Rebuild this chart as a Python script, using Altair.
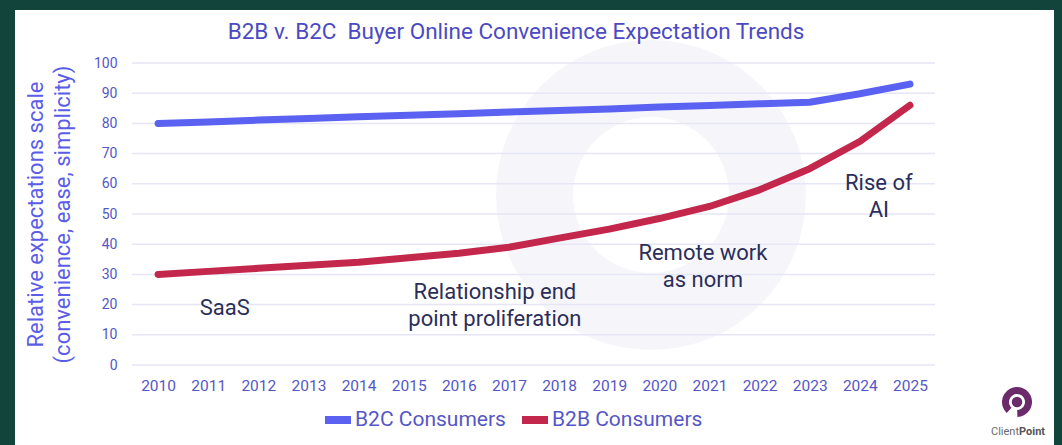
import altair as alt
import pandas as pd

YEARS = list(range(2010, 2026))
B2C = [80, 80.5, 81.1, 81.6, 82.2, 82.7, 83.2, 83.8, 84.3, 84.8, 85.4, 85.9, 86.5, 87.0, 89.8, 93.0]
B2B = [30, 31, 32, 33, 34, 35.5, 37, 39, 42, 45, 48.5, 52.5, 58, 65, 74, 86]
SERIES = ["B2C Consumers", "B2B Consumers"]
COLORS = ["#5b61f0", "#c4274c"]
Y_TICKS = list(range(0, 101, 10))
NOTES = ["SaaS", "Relationship end\npoint proliferation", "Remote work\nas norm", "Rise of\nAI"]
NOTE_X = [2011.33, 2016.72, 2020.87, 2024.38]
NOTE_Y = [18.9, 24.2, 37.1, 60.3]

TITLE = "B2B v. B2C\u00a0 Buyer Online Convenience Expectation Trends"
Y_TITLE = ["Relative expectations scale", "(convenience, ease, simplicity)"]

W, H = 803, 302
FONT = "Roboto"
LABEL_C = "#5557c6"

df = pd.DataFrame({
    "year": YEARS * 2,
    "value": B2C + B2B,
    "series": [SERIES[0]] * len(YEARS) + [SERIES[1]] * len(YEARS),
})
grid_df = pd.DataFrame({"tick": Y_TICKS})
notes_df = pd.DataFrame({"nx": NOTE_X, "ny": NOTE_Y, "note": NOTES})
one = pd.DataFrame({"k": [0]})

xscale = alt.Scale(domain=[2009.48, 2025.5], nice=False, zero=False)
yscale = alt.Scale(domain=[0, 100], nice=False)

AX_X = alt.Axis(values=YEARS, format="d", grid=False, ticks=False, tickSize=0, title=None,
                domain=False, labelFontSize=15.5, labelColor=LABEL_C, labelFont=FONT,
                labelPadding=13, labelOverlap=False, labelFlush=False)
AX_Y = alt.Axis(values=Y_TICKS, grid=False, ticks=False, tickSize=0, domain=False, title=Y_TITLE,
                labelFontSize=14, labelColor=LABEL_C, labelFont=FONT, labelPadding=15,
                titleFont=FONT, titleFontSize=22, titleFontWeight="normal",
                titleColor="#5b5de8", titleLineHeight=27, titleX=-97, titleY=151,
                titleBaseline="middle", titleAlign="center", titleAngle=270)

# decorative background ring
ring = alt.Chart(one).mark_arc(innerRadius=78, outerRadius=155, color="#f6f6fa").encode(
    x=alt.value(651 - 132), y=alt.value(195 - 63),
    theta=alt.value(0), theta2=alt.value(6.2832),
)

grid = alt.Chart(grid_df).mark_rule(color="#e6e6f6", strokeWidth=1.5).encode(
    y=alt.Y("tick:Q", scale=yscale, axis=AX_Y)
)

lines = alt.Chart(df).mark_line(strokeWidth=7, strokeCap="round", strokeJoin="round").encode(
    x=alt.X("year:Q", scale=xscale, axis=AX_X),
    y=alt.Y("value:Q", scale=yscale, axis=AX_Y),
    color=alt.Color("series:N", scale=alt.Scale(domain=SERIES, range=COLORS),
                    legend=alt.Legend(orient="none", legendX=189, legendY=340,
                                      direction="horizontal", title=None, labelFont=FONT,
                                      labelFontSize=21, labelColor=LABEL_C, symbolType="stroke",
                                      symbolStrokeWidth=8, symbolSize=676, columnPadding=0,
                                      labelOffset=0)),
    detail="series:N",
)

notes = alt.Chart(notes_df).mark_text(font=FONT, fontSize=22, color="#2b2e5a", lineBreak="\n",
                                      lineHeight=27, baseline="middle", align="center").encode(
    x=alt.X("nx:Q", scale=xscale, axis=AX_X),
    y=alt.Y("ny:Q", scale=yscale, axis=AX_Y),
    text="note:N",
)

title = alt.Chart(one).mark_text(text=TITLE, font=FONT, fontSize=22.5, color="#4b49c3",
                                 align="center", baseline="middle").encode(
    x=alt.value(516 - 132), y=alt.value(32 - 63))

# dark frame around the card
frame_c = "#13443c"
left_strip = alt.Chart(one).mark_rect(color=frame_c).encode(
    x=alt.value(-132), x2=alt.value(-117), y=alt.value(-63), y2=alt.value(382))
top_strip = alt.Chart(one).mark_rect(color=frame_c).encode(
    x=alt.value(-132), x2=alt.value(930), y=alt.value(-63), y2=alt.value(-53))
right_strip = alt.Chart(one).mark_rect(color=frame_c).encode(
    x=alt.value(922), x2=alt.value(930), y=alt.value(-63), y2=alt.value(382))

# logo
logo_ring = alt.Chart(one).mark_arc(innerRadius=8, outerRadius=15, color="#6a2a6b").encode(
    x=alt.value(1017 - 132), y=alt.value(402 - 63),
    theta=alt.value(3.9), theta2=alt.value(9.4))
logo_dot = alt.Chart(one).mark_point(filled=True, size=110, color="#6a2a6b", opacity=1).encode(
    x=alt.value(1017 - 132), y=alt.value(402 - 63))
logo_t1 = alt.Chart(one).mark_text(text="Client", font=FONT, fontSize=11, color="#6b6b6b",
                                   align="right", baseline="middle").encode(
    x=alt.value(1019 - 132), y=alt.value(432 - 63))
logo_t2 = alt.Chart(one).mark_text(text="Point", font=FONT, fontSize=11, fontWeight="bold",
                                   color="#555555", align="left", baseline="middle").encode(
    x=alt.value(1019 - 132), y=alt.value(432 - 63))

chart = alt.layer(
    ring, grid, lines, notes, title, left_strip, top_strip, right_strip,
    logo_ring, logo_dot, logo_t1, logo_t2,
).properties(
    width=W, height=H,
    autosize=alt.AutoSizeParams(type="none"),
    padding={"left": 132, "top": 63, "right": 127, "bottom": 80},
    background="white",
).configure_view(stroke=None)

chart.save("out.html", embed_options={"renderer": "svg", "actions": False})
